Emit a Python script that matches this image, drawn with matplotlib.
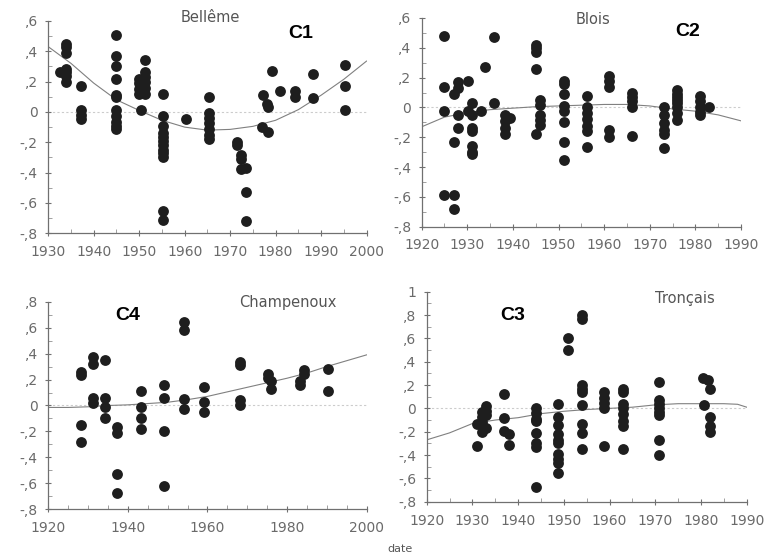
import matplotlib
matplotlib.use("Agg")
import matplotlib.pyplot as plt
from matplotlib.ticker import MultipleLocator

# --- C1 Bellême ---
c1_year = [1932.6, 1934, 1934, 1934, 1934, 1934, 1934, 1934,
           1937.3, 1937.3, 1937.3, 1937.3,
           1945, 1945, 1945, 1945, 1945, 1945, 1945, 1945, 1945, 1945, 1945,
           1950, 1950, 1950, 1950, 1950.5,
           1951.3, 1951.3, 1951.3, 1951.3, 1951.3, 1951.3,
           1955.2, 1955.2, 1955.2, 1955.2, 1955.2, 1955.2, 1955.2, 1955.2, 1955.2, 1955.2, 1955.2, 1955.2,
           1960.4,
           1965.3, 1965.3, 1965.3, 1965.3, 1965.3, 1965.3, 1965.3,
           1971.5, 1971.5, 1972.3, 1972.3, 1972.5, 1973.5, 1973.5, 1973.5,
           1977.2, 1977.1, 1978.2, 1978.4, 1978.4, 1979.2, 1981, 1984.3, 1984.3,
           1988.3, 1988.3, 1995.3, 1995.3, 1995.3]
c1_val = [0.26, 0.45, 0.43, 0.39, 0.285, 0.26, 0.235, 0.20,
          0.17, 0.01, -0.02, -0.045,
          0.51, 0.37, 0.30, 0.22, 0.11, 0.10, 0.016, -0.03, -0.065, -0.09, -0.11,
          0.22, 0.19, 0.15, 0.12, 0.016,
          0.345, 0.26, 0.23, 0.20, 0.16, 0.12,
          0.12, -0.03, -0.09, -0.14, -0.165, -0.19, -0.22, -0.25, -0.27, -0.30, -0.655, -0.715,
          -0.045,
          0.10, -0.01, -0.04, -0.07, -0.11, -0.15, -0.18,
          -0.20, -0.22, -0.285, -0.31, -0.375, -0.37, -0.53, -0.72,
          0.11, -0.10, 0.055, 0.03, -0.13, 0.27, 0.14, 0.14, 0.10,
          0.25, 0.09, 0.31, 0.17, 0.01]
c1_trend_year = [1930, 1935, 1940, 1945, 1950, 1955, 1960, 1965, 1970, 1975, 1980, 1985, 1990, 1995, 2000]
c1_trend_val = [0.43, 0.32, 0.19, 0.08, 0.01, -0.055, -0.10, -0.12, -0.115, -0.095, -0.055, 0.015, 0.11, 0.215, 0.335]

# --- C2 Blois ---
c2_year = [1925, 1925, 1925, 1925,
           1927.1, 1927.1, 1927.1, 1927.1,
           1928, 1928, 1928, 1928,
           1930.1, 1930.1,
           1931.1, 1931.1, 1931.1, 1931.1, 1931.1, 1931.1, 1931.1,
           1933, 1933.9, 1935.9, 1935.9,
           1938.2, 1938.2, 1938.2, 1938.2, 1939.3,
           1945, 1945, 1945, 1945, 1945,
           1945.9, 1945.9, 1945.9, 1945.9, 1945.9,
           1951.2, 1951.2, 1951.2, 1951.2, 1951.2, 1951.2, 1951.2, 1951.2,
           1956.2, 1956.2, 1956.2, 1956.2, 1956.2, 1956.2, 1956.2,
           1961.1, 1961.1, 1961.1, 1961.1, 1961.1,
           1966, 1966, 1966, 1966, 1966,
           1973.2, 1973.2, 1973.2, 1973.2, 1973.2, 1973.2,
           1975.9, 1975.9, 1975.9, 1975.9, 1975.9, 1975.9, 1975.9, 1975.9,
           1981, 1981, 1981, 1981, 1981, 1983]
c2_val = [0.48, 0.14, -0.025, -0.59,
          0.09, -0.23, -0.59, -0.68,
          0.17, 0.13, -0.05, -0.14,
          0.18, -0.025,
          0.027, -0.05, -0.14, -0.16, -0.26, -0.30, -0.31,
          -0.025, 0.27, 0.47, 0.027,
          -0.05, -0.09, -0.14, -0.175, -0.07,
          0.42, 0.40, 0.37, 0.255, -0.175,
          0.05, 0.015, -0.05, -0.085, -0.115,
          0.18, 0.155, 0.09, 0.01, -0.025, -0.10, -0.23, -0.35,
          0.08, 0.0, -0.04, -0.08, -0.125, -0.16, -0.265,
          0.21, 0.18, 0.14, -0.15, -0.20,
          0.10, 0.07, 0.04, 0.005, -0.19,
          0.0, -0.05, -0.105, -0.15, -0.18, -0.275,
          0.115, 0.09, 0.07, 0.05, 0.03, 0.0, -0.04, -0.085,
          0.08, 0.04, 0.0, -0.03, -0.05, 0.005]
c2_trend_year = [1920, 1925, 1930, 1935, 1940, 1945, 1950, 1955, 1960, 1965, 1970, 1975, 1980, 1985, 1990]
c2_trend_val = [-0.13, -0.065, -0.035, -0.015, -0.005, 0.005, 0.01, 0.015, 0.02, 0.02, 0.01, -0.01, -0.025, -0.05, -0.09]

# --- C4 Champenoux ---
c4_year = [1928.2, 1928.2, 1928.2, 1928.2,
           1931.3, 1931.3, 1931.3, 1931.3,
           1934.3, 1934.3, 1934.3, 1934.3,
           1937.3, 1937.3, 1937.3, 1937.3,
           1943.3, 1943.3, 1943.3, 1943.3,
           1949.1, 1949.1, 1949.1, 1949.1,
           1954.2, 1954.2, 1954.2, 1954.2,
           1959.1, 1959.1, 1959.1,
           1968.3, 1968.3, 1968.3, 1968.3,
           1975.3, 1975.3, 1975.9, 1975.9,
           1983.2, 1983.2, 1984.4, 1984.4,
           1990.4, 1990.4]
c4_val = [0.26, 0.235, -0.15, -0.28,
          0.37, 0.32, 0.06, 0.018,
          0.35, 0.06, -0.01, -0.095,
          -0.165, -0.21, -0.53, -0.675,
          0.115, -0.01, -0.10, -0.18,
          0.16, 0.06, -0.195, -0.62,
          0.645, 0.58, 0.05, -0.025,
          0.145, 0.025, -0.05,
          0.335, 0.31, 0.045, 0.0,
          0.245, 0.21, 0.19, 0.13,
          0.19, 0.155, 0.27, 0.245,
          0.28, 0.115]
c4_trend_year = [1920, 1925, 1930, 1935, 1940, 1945, 1950, 1955, 1960, 1965, 1970, 1975, 1980, 1985, 1990, 1995, 2000]
c4_trend_val = [-0.015, -0.015, -0.01, 0.0, 0.005, 0.015, 0.025, 0.045, 0.07, 0.105, 0.14, 0.175, 0.21, 0.25, 0.30, 0.345, 0.39]

# --- C3 Tronçais ---
c3_year = [1930.9, 1930.9,
           1932, 1932, 1932, 1932, 1933, 1933, 1933, 1933,
           1936.8, 1936.8, 1936.8, 1938.1, 1938.1,
           1943.9, 1943.9, 1943.9, 1943.9, 1943.9, 1943.9, 1943.9, 1943.9,
           1948.8, 1948.8, 1948.8, 1948.8, 1948.8, 1948.8, 1948.8, 1948.8, 1948.8, 1948.8,
           1951, 1951,
           1953.9, 1953.9, 1953.9, 1953.9, 1953.9, 1953.9, 1953.9, 1953.9, 1953.9,
           1958.8, 1958.8, 1958.8, 1958.8, 1958.8,
           1963, 1963, 1963, 1963, 1963, 1963, 1963, 1963,
           1970.9, 1970.9, 1970.9, 1970.9, 1970.9, 1970.9, 1970.9, 1970.9,
           1980.5, 1981.6, 1981.9, 1980.6, 1981.9, 1981.9, 1981.9]
c3_val = [-0.13, -0.32,
          -0.03, -0.07, -0.12, -0.20, 0.02, -0.02, -0.06, -0.17,
          0.12, -0.08, -0.19, -0.22, -0.31,
          0.0, -0.04, -0.09, -0.11, -0.21, -0.30, -0.33, -0.67,
          0.04, -0.07, -0.14, -0.22, -0.27, -0.30, -0.39, -0.43, -0.47, -0.55,
          0.60, 0.50,
          0.80, 0.77, 0.20, 0.17, 0.14, 0.03, -0.13, -0.21, -0.35,
          0.14, 0.09, 0.05, 0.0, -0.32,
          0.17, 0.14, 0.04, 0.0, -0.05, -0.11, -0.15, -0.35,
          0.23, 0.07, 0.04, 0.0, -0.03, -0.06, -0.27, -0.40,
          0.26, 0.24, 0.17, 0.03, -0.07, -0.15, -0.20]
c3_trend_year = [1920, 1925, 1930, 1935, 1940, 1945, 1950, 1955, 1960, 1965, 1970, 1975, 1980, 1985, 1988, 1990]
c3_trend_val = [-0.27, -0.21, -0.13, -0.10, -0.08, -0.045, -0.025, -0.01, 0.0, 0.01, 0.03, 0.04, 0.04, 0.04, 0.035, 0.01]

ytick_08 = [-0.8, -0.6, -0.4, -0.2, 0, 0.2, 0.4, 0.6, 0.8]
ytick_08_labels = ["-,8", "-,6", "-,4", "-,2", "0", ",2", ",4", ",6", ",8"]
ytick_06 = [-0.8, -0.6, -0.4, -0.2, 0, 0.2, 0.4, 0.6]
ytick_06_labels = ["-,8", "-,6", "-,4", "-,2", "0", ",2", ",4", ",6"]
ytick_10 = [-0.8, -0.6, -0.4, -0.2, 0, 0.2, 0.4, 0.6, 0.8, 1.0]
ytick_10_labels = ["-,8", "-,6", "-,4", "-,2", "0", ",2", ",4", ",6", ",8", "1"]

GREY = "#6a6a6a"
DOT = "#1e1e1e"

panels = [
    # rect, x, y, trend x, trend y, xlim, xmajor, ylim, yticks, ylabels, title, title pos, tag, tag pos
    ([0.0631, 0.5826, 0.416, 0.380], c1_year, c1_val, c1_trend_year, c1_trend_val,
     (1930, 2000), 10, (-0.8, 0.6), ytick_06, ytick_06_labels, "Bellême", (210, 18), "C1", (301, 34)),
    ([0.5512, 0.5945, 0.4174, 0.3733], c2_year, c2_val, c2_trend_year, c2_trend_val,
     (1920, 1990), 10, (-0.8, 0.6), ytick_06, ytick_06_labels, "Blois", (593, 19), "C2", (688, 31)),
    ([0.0631, 0.0889, 0.416, 0.3714], c4_year, c4_val, c4_trend_year, c4_trend_val,
     (1920, 2000), 20, (-0.8, 0.8), ytick_08, ytick_08_labels, "Champenoux", (288, 303), "C4", (128, 316)),
    ([0.5578, 0.1025, 0.4183, 0.3757], c3_year, c3_val, c3_trend_year, c3_trend_val,
     (1920, 1990), 10, (-0.8, 1.0), ytick_10, ytick_10_labels, "Tronçais", (685, 298), "C3", (513, 316)),
]

fig = plt.figure(figsize=(7.65, 5.59), dpi=100)
W, H = 765.0, 559.0

for (rect, xs, ys, tx, ty, xlim, xmajor, ylim, yticks, ylabels,
     title, tpos, tag, gpos) in panels:
    ax = fig.add_axes(rect)
    ax.set_xlim(*xlim)
    ax.set_ylim(*ylim)
    ax.axhline(0, color="#cccccc", lw=0.8, ls=(0, (2, 2)), zorder=1)
    ax.plot(tx, ty, color="#808080", lw=0.8, zorder=2)
    ax.plot(xs, ys, "o", ms=7.8, color=DOT, mec="none", zorder=3, clip_on=False)

    for side in ("top", "right"):
        ax.spines[side].set_visible(False)
    for side in ("left", "bottom"):
        ax.spines[side].set_color("#707070")
        ax.spines[side].set_linewidth(0.9)

    ax.xaxis.set_major_locator(MultipleLocator(xmajor))
    ax.xaxis.set_minor_locator(MultipleLocator(5))
    ax.set_yticks(yticks)
    ax.set_yticklabels(ylabels)
    ax.yaxis.set_minor_locator(MultipleLocator(0.1))
    ax.tick_params(axis="both", which="major", colors="#707070", labelcolor=GREY,
                   labelsize=10, direction="inout", length=5, width=0.8)
    ax.tick_params(axis="both", which="minor", colors="#909090", direction="in",
                   length=3, width=0.6)
    ax.tick_params(axis="x", which="major", pad=6)
    ax.tick_params(axis="y", which="major", pad=5)

    fig.text(tpos[0] / W, 1 - tpos[1] / H, title, ha="center", va="center",
             fontsize=10.5, color="#555555")
    fig.text(gpos[0] / W, 1 - gpos[1] / H, tag, ha="center", va="center",
             fontsize=14, fontweight="bold", color="black", family="Liberation Sans")

fig.text(400 / W, 1 - 549 / H, "date", ha="center", va="center", fontsize=8, color="#555555")

plt.savefig("out.png", dpi=100)
